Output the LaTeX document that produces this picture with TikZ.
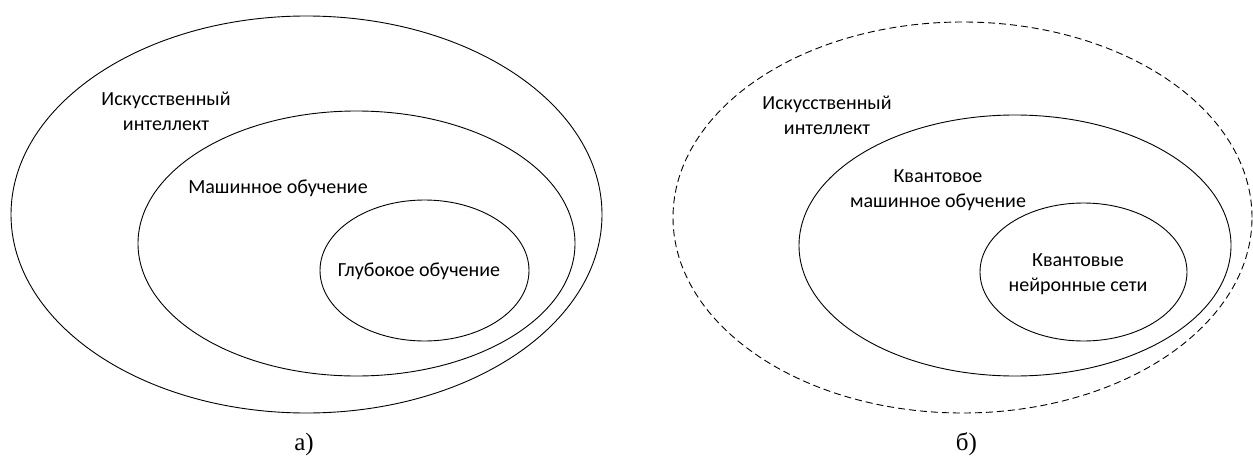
\documentclass[tikz,border=0pt]{standalone}
\usepackage{fontspec}
\setmainfont{Carlito}
\newfontfamily\capfont{Liberation Serif}
\usetikzlibrary{shapes.geometric}
\begin{document}
\begin{tikzpicture}[x=1pt,y=-1pt,
  ring/.style={draw, ellipse, line width=0.9pt, inner sep=0pt},
  dashring/.style={ring, dash pattern=on 7pt off 4pt},
  lbl/.style={font=\fontsize{20}{25}\selectfont, align=center, inner sep=0pt},
  caplbl/.style={font=\capfont\fontsize{25}{28}\selectfont, inner sep=0pt}]
\useasboundingbox (0,0) rectangle (1253,460);
% left diagram
\node[ring, minimum width=591pt, minimum height=397pt] (aiA) at (306.5,214.5) {};
\node[ring, minimum width=437pt, minimum height=265pt] (mlA) at (356.5,243.5) {};
\node[ring, minimum width=209pt, minimum height=141pt] (dlA) at (424.5,270.5) {};
\node[lbl] (taiA) at (166,111.5) {Искусственный\\интеллект};
\node[lbl] (tmlA) at (278,188) {Машинное обучение};
\node[lbl] (tdlA) at (419,271) {Глубокое обучение};
\node[caplbl] (capA) at (304,444) {а)};
% right diagram
\node[dashring, minimum width=579pt, minimum height=391pt] (aiB) at (962.5,217.5) {};
\node[ring, minimum width=432pt, minimum height=261pt] (mlB) at (1015,245.5) {};
\node[ring, minimum width=207pt, minimum height=138pt] (qnB) at (1083.5,272) {};
\node[lbl] (taiB) at (827,115.5) {Искусственный\\интеллект};
\node[lbl] (tmlB) at (938,190.5) {Квантовое\\машинное обучение};
\node[lbl] (tqnB) at (1078,274) {Квантовые\\нейронные сети};
\node[caplbl] (capB) at (966.5,444) {б)};
\end{tikzpicture}
\end{document}
